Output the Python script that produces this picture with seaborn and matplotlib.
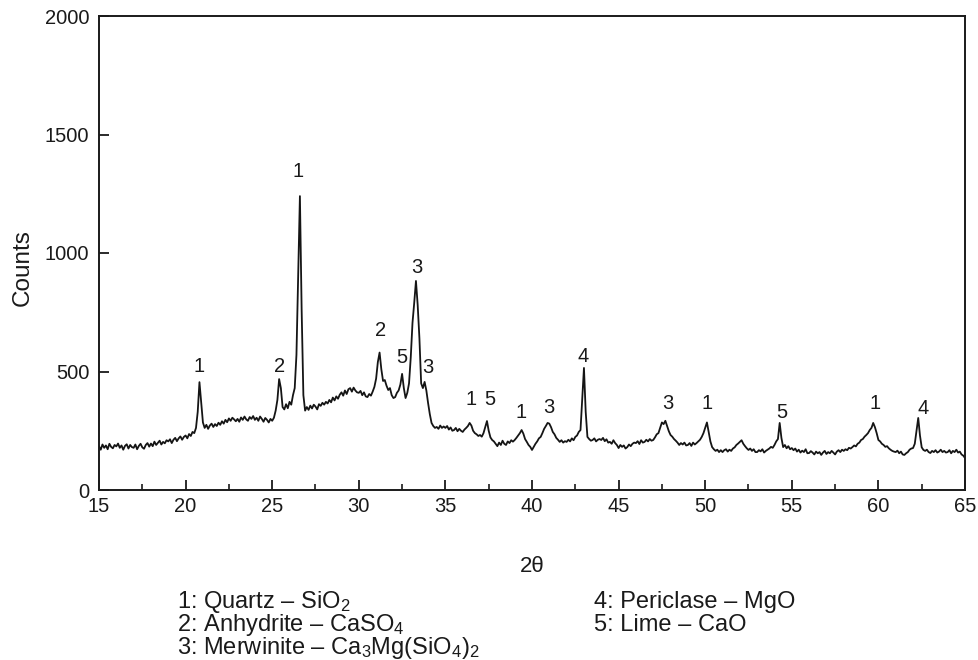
import numpy as np
import pandas as pd
import matplotlib
matplotlib.use("Agg")
import matplotlib.pyplot as plt
import seaborn as sns

# Diffractogram: counts sampled every 0.1 degree 2-theta, starting at 15.0
two_theta_start = 15.0
two_theta_step = 0.1
counts = [
    185, 170, 192, 178, 188, 172, 195, 182, 176, 190,   # 15
    184, 196, 178, 188, 170, 186, 193, 175, 190, 181,   # 16
    178, 192, 172, 186, 195, 180, 174, 190, 198, 183,   # 17
    196, 185, 204, 190, 199, 208, 192, 203, 197, 210,   # 18
    205, 214, 198, 212, 220, 206, 218, 226, 212, 224,   # 19
    230, 218, 236, 228, 245, 240, 262, 330, 455, 370,   # 20
    285, 262, 275, 258, 272, 280, 266, 278, 270, 284,   # 21
    275, 290, 280, 296, 286, 302, 292, 305, 298, 290,   # 22
    300, 288, 306, 296, 310, 298, 292, 308, 300, 312,   # 23
    296, 305, 292, 310, 300, 288, 304, 296, 285, 300,   # 24
    292, 305, 335, 380, 468, 430, 350, 340, 362, 345,   # 25
    372, 360, 400, 430, 570, 900, 1240, 760, 400, 335,  # 26
    350, 338, 356, 344, 360, 352, 340, 362, 355, 368,   # 27
    360, 372, 365, 380, 370, 390, 378, 395, 385, 402,   # 28
    412, 398, 420, 405, 425, 430, 415, 432, 420, 412,   # 29
    410, 418, 400, 412, 395, 392, 405, 398, 415, 435,   # 30
    470, 540, 580, 510, 460, 464, 440, 422, 430, 400,   # 31
    388, 392, 410, 420, 445, 490, 430, 388, 410, 450,   # 32
    560, 705, 790, 882, 780, 640, 450, 430, 456, 420,   # 33
    367, 320, 283, 270, 262, 266, 258, 272, 262, 268,   # 34
    262, 270, 255, 264, 250, 253, 262, 248, 258, 250,   # 35
    245, 255, 262, 270, 283, 272, 250, 240, 235, 228,   # 36
    232, 225, 240, 265, 291, 250, 222, 211, 205, 195,   # 37
    185, 200, 190, 208, 195, 190, 205, 198, 210, 204,   # 38
    211, 220, 230, 240, 253, 238, 215, 203, 190, 182,   # 39
    169, 182, 195, 205, 218, 224, 240, 258, 270, 283,   # 40
    280, 265, 245, 235, 220, 212, 203, 210, 200, 206,   # 41
    203, 212, 205, 218, 210, 224, 230, 245, 253, 380,   # 42
    515, 330, 224, 215, 208, 211, 218, 205, 212, 215,   # 43
    211, 220, 206, 214, 200, 203, 195, 210, 198, 190,   # 44
    177, 190, 182, 188, 175, 181, 192, 185, 195, 200,   # 45
    198, 206, 194, 210, 200, 203, 212, 205, 215, 208,   # 46
    211, 222, 235, 240, 262, 285, 278, 292, 270, 248,   # 47
    232, 225, 215, 208, 200, 190, 198, 192, 200, 188,   # 48
    190, 198, 186, 200, 192, 198, 205, 212, 224, 240,   # 49
    262, 285, 245, 205, 181, 172, 165, 170, 160, 168,   # 50
    160, 168, 172, 162, 170, 165, 175, 180, 190, 196,   # 51
    203, 210, 195, 185, 176, 169, 175, 165, 172, 160,   # 52
    160, 168, 163, 172, 158, 165, 170, 175, 182, 178,   # 53
    190, 205, 215, 283, 220, 181, 190, 176, 185, 172,   # 54
    177, 168, 175, 162, 170, 158, 166, 160, 172, 155,   # 55
    156, 164, 158, 150, 162, 155, 160, 148, 158, 165,   # 56
    152, 160, 155, 165, 158, 150, 162, 168, 160, 170,   # 57
    165, 172, 168, 178, 175, 181, 188, 184, 195, 200,   # 58
    211, 215, 225, 232, 240, 253, 262, 283, 265, 240,   # 59
    211, 205, 195, 190, 182, 185, 176, 170, 165, 162,   # 60
    160, 166, 155, 162, 150, 148, 155, 160, 170, 175,   # 61
    177, 195, 250, 304, 230, 180, 169, 165, 170, 160,   # 62
    156, 165, 160, 168, 158, 162, 170, 160, 165, 158,   # 63
    160, 168, 155, 165, 160, 170, 158, 162, 150, 145,   # 64
    135,                                                # 65
]
two_theta = np.round(two_theta_start + two_theta_step * np.arange(len(counts)), 2)

# Phase numbers written above the identified reflections
peak_ids = ["1", "2", "1", "2", "5", "3", "3", "1", "5", "1", "3", "4", "3", "1", "5", "1", "4"]
peak_label_x = [20.8, 25.45, 26.5, 31.28, 32.5, 33.36, 34.0, 36.5, 37.57, 39.37,
                40.98, 42.95, 47.85, 50.1, 54.43, 59.8, 62.57]
peak_label_y = [519, 523, 1342, 675, 557, 937, 515, 380, 380, 325,
                350, 565, 367, 367, 325, 367, 342]

# Phase key
phases_left = ["1: Quartz – SiO$_2$",
               "2: Anhydrite – CaSO$_4$",
               "3: Merwinite – Ca$_3$Mg(SiO$_4$)$_2$"]
phases_right = ["4: Periclase – MgO",
                "5: Lime – CaO"]

x_ticks = [15, 20, 25, 30, 35, 40, 45, 50, 55, 60, 65]
y_ticks = [0, 500, 1000, 1500, 2000]

df = pd.DataFrame({"two_theta": two_theta, "counts": counts})

sns.set_theme(style="ticks")
plt.rcParams["font.family"] = ["Liberation Sans", "DejaVu Sans"]
plt.rcParams["mathtext.fontset"] = "custom"
plt.rcParams["mathtext.rm"] = "Liberation Sans"
plt.rcParams["mathtext.it"] = "Liberation Sans:italic"
plt.rcParams["mathtext.bf"] = "Liberation Sans:bold"
plt.rcParams["mathtext.default"] = "regular"

W, H = 979, 660
ink = "#1a1a1a"
fig = plt.figure(figsize=(W / 100, H / 100), dpi=100)
ax = fig.add_axes([99 / W, 1 - 490 / H, (965 - 99) / W, (490 - 16) / H])

sns.lineplot(data=df, x="two_theta", y="counts", ax=ax, color="#151515",
             linewidth=1.3, estimator=None, sort=False)

ax.set_xlim(15, 65)
ax.set_ylim(0, 2000)
ax.set_xticks(x_ticks)
ax.set_xticks([17.5, 22.5, 27.5, 32.5, 37.5, 42.5, 47.5, 52.5, 57.5, 62.5], minor=True)
ax.set_yticks(y_ticks)
ax.tick_params(axis="both", which="major", direction="in", length=7, width=1.3,
               labelsize=14.5, color=ink, labelcolor=ink)
ax.tick_params(axis="x", which="major", pad=5)
ax.tick_params(axis="y", which="major", pad=7)
ax.tick_params(axis="x", which="minor", direction="in", length=4.5, width=1.2, color=ink)
ax.tick_params(top=False, right=False)

for side in ["left", "right", "top", "bottom"]:
    ax.spines[side].set_visible(True)
    ax.spines[side].set_linewidth(1.4)
    ax.spines[side].set_color(ink)

ax.set_xlabel("2θ", fontsize=16, color=ink, va="center")
ax.set_ylabel("Counts", fontsize=17.5, color=ink, va="center")
ax.xaxis.set_label_coords(0.5, -0.162)
ax.yaxis.set_label_coords(-0.088, 0.47)

for t, x, y in zip(peak_ids, peak_label_x, peak_label_y):
    ax.text(x, y, t, ha="center", va="center", fontsize=14.5, color=ink)

# Two-column phase key below the axis title (y is the baseline of each block's last line)
fig.text(177 / W, 1 - 654 / H, "\n".join(phases_left), ha="left",
         va="baseline", fontsize=17, color=ink, linespacing=0.84)
fig.text(594 / W, 1 - 631 / H, "\n".join(phases_right), ha="left",
         va="baseline", fontsize=17, color=ink, linespacing=1.065)

fig.savefig("out.png", dpi=100)
